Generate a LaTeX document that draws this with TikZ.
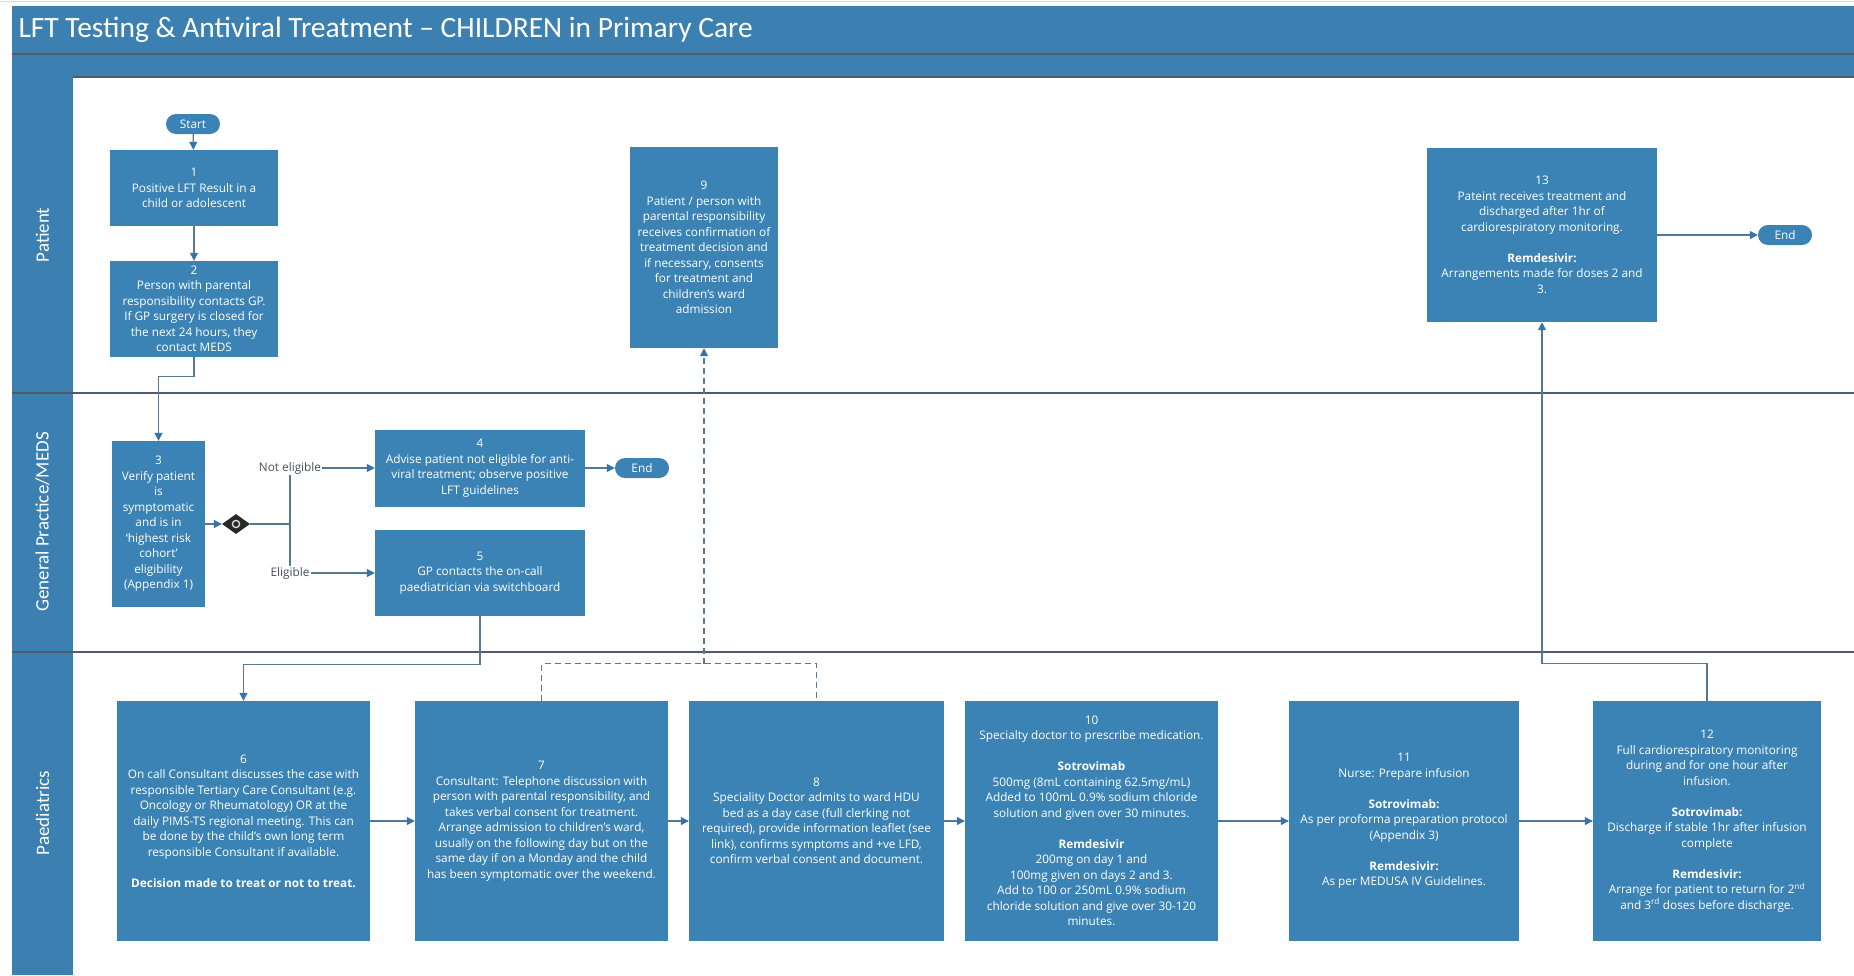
\documentclass[tikz,border=0pt]{standalone}
\usepackage{fontspec}
\setmainfont{Open Sans}
\newfontfamily\titlefont{Carlito}
\usetikzlibrary{arrows.meta,shapes.geometric}
\definecolor{boxblue}{RGB}{59,131,181}
\definecolor{barblue}{RGB}{60,128,178}
\definecolor{lanegray}{RGB}{80,92,104}
\definecolor{conncol}{RGB}{85,120,150}
\definecolor{arrblue}{RGB}{55,115,165}
\definecolor{labgray}{RGB}{70,80,90}
\definecolor{gwdark}{RGB}{40,40,40}
\begin{document}
\begin{tikzpicture}[x=1pt,y=-1pt,
  box/.style={rectangle, fill=boxblue, text=white, inner sep=0pt, align=center,
    font=\fontsize{11.8}{15.5}\selectfont},
  term/.style={rectangle, rounded corners=10pt, fill=boxblue, text=white,
    minimum width=54pt, minimum height=20pt, inner sep=0pt, font=\fontsize{11.8}{15}\selectfont},
  lanelab/.style={rotate=90, text=white, font=\titlefont\fontsize{19}{22}\selectfont},
  edgelab/.style={fill=white, text=labgray, inner sep=1pt, font=\fontsize{11.8}{15}\selectfont},
  link/.style={draw=conncol, line width=1.2pt},
  arr/.style={link, -{Triangle[length=8pt,width=8pt,color=arrblue]}},
  lanesep/.style={draw=lanegray, line width=1.6pt}
]
\useasboundingbox (0,0) rectangle (1854,975);
% frame
\draw[gray!30, line width=1pt] (0,1.5) -- (1854,1.5);
\fill[barblue] (12,6) rectangle (1854,77);
\draw[lanegray, line width=1.2pt] (12,54) -- (1854,54);
\fill[barblue] (12,77) rectangle (73,975);
\draw[lanesep] (73,77) -- (1854,77);
\draw[lanesep] (12,393) -- (1854,393);
\draw[lanesep] (12,652) -- (1854,652);
\node[anchor=west, text=white, font=\titlefont\fontsize{29.5}{31}\selectfont] (title) at (15,30)
  {LFT Testing \& Antiviral Treatment – CHILDREN in Primary Care};
\node[lanelab] (lpat) at (42.5,235) {Patient};
\node[lanelab] (lgp) at (42.5,522) {General Practice/MEDS};
\node[lanelab] (lpae) at (42.5,813) {Paediatrics};

% nodes
\node[term] (start) at (193,124) {Start};
\node[box, minimum width=168pt, minimum height=76pt] (b1) at (194,188)
  {1\\Positive LFT Result in a\\child or adolescent};
\node[box, minimum width=168pt, minimum height=96pt] (b2) at (194,309)
  {2\\Person with parental\\responsibility contacts GP.\\If GP surgery is closed for\\the next 24 hours, they\\contact MEDS};
\node[box, minimum width=93pt, minimum height=166pt] (b3) at (158.5,524)
  {3\\Verify patient\\is\\symptomatic\\and is in\\‘highest risk\\cohort’\\eligibility\\(Appendix 1)};
\node[diamond, fill=gwdark, minimum width=28pt, minimum height=20pt, inner sep=0pt] (gw) at (236,524) {};
\draw[white!75!gray, line width=1.3pt] (gw.center) circle (3.6);
\node[box, minimum width=210pt, minimum height=77pt] (b4) at (480,468)
  {4\\Advise patient not eligible for anti-\\viral treatment; observe positive\\LFT guidelines};
\node[term] (end1) at (642,468) {End};
\node[box, minimum width=210pt, minimum height=86pt] (b5) at (480,573)
  {5\\GP contacts the on-call\\paediatrician via switchboard};
\node[edgelab] (ne) at (290,468) {Not eligible};
\node[edgelab] (el) at (290,573) {Eligible};
\node[box, minimum width=148pt, minimum height=201pt] (b9) at (704,247.5)
  {9\\Patient / person with\\parental responsibility\\receives confirmation of\\treatment decision and\\if necessary, consents\\for treatment and\\children’s ward\\admission};
\node[box, minimum width=230pt, minimum height=174pt] (b13) at (1542,235)
  {13\\Pateint receives treatment and\\discharged after 1hr of\\cardiorespiratory monitoring.\\[\baselineskip]\textbf{Remdesivir:}\\Arrangements made for doses 2 and\\3.};
\node[term] (end2) at (1785,235) {End};
\node[box, minimum width=253pt, minimum height=240pt] (b6) at (243.5,821)
  {6\\On call Consultant discusses the case with\\responsible Tertiary Care Consultant (e.g.\\Oncology or Rheumatology) OR at the\\daily PIMS-TS regional meeting. This can\\be done by the child’s own long term\\responsible Consultant if available.\\[\baselineskip]\textbf{Decision made to treat or not to treat.}};
\node[box, minimum width=253pt, minimum height=240pt] (b7) at (541.5,821)
  {7\\Consultant: Telephone discussion with\\person with parental responsibility, and\\takes verbal consent for treatment.\\Arrange admission to children’s ward,\\usually on the following day but on the\\same day if on a Monday and the child\\has been symptomatic over the weekend.};
\node[box, minimum width=255pt, minimum height=240pt] (b8) at (816.5,821)
  {8\\Speciality Doctor admits to ward HDU\\bed as a day case (full clerking not\\required), provide information leaflet (see\\link), confirms symptoms and +ve LFD,\\confirm verbal consent and document.};
\node[box, minimum width=253pt, minimum height=240pt] (b10) at (1091.5,821)
  {10\\Specialty doctor to prescribe medication.\\[\baselineskip]\textbf{Sotrovimab}\\500mg (8mL containing 62.5mg/mL)\\Added to 100mL 0.9\% sodium chloride\\solution and given over 30 minutes.\\[\baselineskip]\textbf{Remdesivir}\\200mg on day 1 and\\100mg given on days 2 and 3.\\Add to 100 or 250mL 0.9\% sodium\\chloride solution and give over 30-120\\minutes.};
\node[box, minimum width=230pt, minimum height=240pt] (b11) at (1404,821)
  {11\\Nurse: Prepare infusion\\[\baselineskip]\textbf{Sotrovimab:}\\As per proforma preparation protocol\\(Appendix 3)\\[\baselineskip]\textbf{Remdesivir:}\\As per MEDUSA IV Guidelines.};
\node[box, minimum width=228pt, minimum height=240pt] (b12) at (1707,821)
  {12\\Full cardiorespiratory monitoring\\during and for one hour after\\infusion.\\[\baselineskip]\textbf{Sotrovimab:}\\Discharge if stable 1hr after infusion\\complete\\[\baselineskip]\textbf{Remdesivir:}\\Arrange for patient to return for 2\textsuperscript{nd}\\and 3\textsuperscript{rd} doses before discharge.};

% connectors
\coordinate (br) at (290,524);
\coordinate (dm) at (704,664);
\draw[arr] (start) -- (b1);
\draw[arr] (b1) -- (b2);
\draw[arr] (b2.south) -- ++(0,19) -| (b3.north);
\draw[arr] (b3) -- (gw);
\draw[link] (gw.east) -- (br);
\draw[link] (ne.south) -- (el.north);
\draw[arr] (ne) -- (b4);
\draw[arr] (el) -- (b5);
\draw[arr] (b4) -- (end1);
\draw[arr] (b5.south) -- ++(0,48) -| (b6.north);
\draw[arr] (b6) -- (b7);
\draw[arr] (b7) -- (b8);
\draw[arr] (b8) -- (b10);
\draw[arr] (b10) -- (b11);
\draw[arr] (b11) -- (b12);
\draw[link, dash pattern=on 6pt off 4pt] (b7.north) -- ++(0,-37) -| (b8.north);
\draw[arr, dash pattern=on 6pt off 4pt] (dm) -- (b9.south);
\draw[arr] (b12.north) -- ++(0,-37) -| (b13.south);
\draw[arr] (b13) -- (end2);
\end{tikzpicture}
\end{document}
